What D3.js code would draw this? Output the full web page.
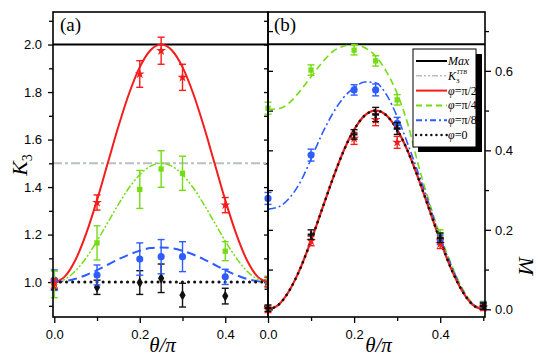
<!DOCTYPE html>
<meta charset="utf-8">
<script src="https://d3js.org/d3.v7.min.js"></script>
<style>
  body { margin: 0; background: #fff; }
  svg text { fill: #000; }
</style>
<svg id="chart" width="540" height="359"></svg>
<script>

// theory curves, every 0.025 in theta/pi
var thetaCurve = [0, 0.025, 0.05, 0.075, 0.1, 0.125, 0.15, 0.175, 0.2, 0.225, 0.25,
                  0.275, 0.3, 0.325, 0.35, 0.375, 0.4, 0.425, 0.45, 0.475, 0.5];
// panel (a): K3
var kRedCurve   = [1.0, 1.024, 1.095, 1.206, 1.345, 1.5, 1.655, 1.794, 1.905, 1.976, 2.0,
                   1.976, 1.905, 1.794, 1.655, 1.5, 1.345, 1.206, 1.095, 1.024, 1.0];
var kGreenCurve = [1.0, 1.012, 1.048, 1.103, 1.173, 1.25, 1.327, 1.397, 1.452, 1.488, 1.5,
                   1.488, 1.452, 1.397, 1.327, 1.25, 1.173, 1.103, 1.048, 1.012, 1.0];
var kBlueCurve  = [1.0, 1.004, 1.014, 1.03, 1.05, 1.073, 1.096, 1.116, 1.132, 1.143, 1.146,
                   1.143, 1.132, 1.116, 1.096, 1.073, 1.05, 1.03, 1.014, 1.004, 1.0];
var kBlackCurve = [1, 1, 1, 1, 1, 1, 1, 1, 1, 1, 1, 1, 1, 1, 1, 1, 1, 1, 1, 1, 1];
var kMax = 2.0, kTTB = 1.5;
// panel (b): M
var mRedCurve   = [0, 0.012, 0.048, 0.103, 0.173, 0.25, 0.327, 0.397, 0.452, 0.488, 0.5,
                   0.488, 0.452, 0.397, 0.327, 0.25, 0.173, 0.103, 0.048, 0.012, 0];
var mBlackCurve = [0, 0.012, 0.048, 0.103, 0.173, 0.25, 0.327, 0.397, 0.452, 0.488, 0.5,
                   0.488, 0.452, 0.397, 0.327, 0.25, 0.173, 0.103, 0.048, 0.012, 0];
var mGreenCurve = [0.503, 0.505, 0.52, 0.55, 0.585, 0.62, 0.648, 0.662, 0.666, 0.658, 0.637,
                   0.598, 0.543, 0.465, 0.36, 0.268, 0.186, 0.115, 0.055, 0.015, 0];
var mBlueCurve  = [0.252, 0.258, 0.28, 0.32, 0.378, 0.44, 0.492, 0.532, 0.557, 0.572, 0.57,
                   0.54, 0.485, 0.415, 0.34, 0.262, 0.18, 0.112, 0.052, 0.014, 0];
var mMax = 0.667;

// measured points
var thetaPts = [0, 0.1, 0.2, 0.25, 0.3, 0.4, 0.5];
var kRed     = [0.995, 1.335, 1.876, 1.974, 1.862, 1.324, 1.0];
var kRedErr  = [0.02, 0.032, 0.056, 0.057, 0.055, 0.032, 0.02];
var kGreen   = [0.99, 1.165, 1.39, 1.476, 1.458, 1.13, 1.005];
var kGreenErr= [0.056, 0.072, 0.08, 0.077, 0.072, 0.04, 0.02];
var kBlue    = [1.008, 1.03, 1.097, 1.107, 1.107, 1.022, 1.0];
var kBlueErr = [0.043, 0.042, 0.068, 0.072, 0.063, 0.032, 0.02];
var kBlack   = [0.99, 0.978, 0.998, 1.016, 0.945, 0.941, 0.99];
var kBlackErr= [0.02, 0.03, 0.05, 0.06, 0.05, 0.033, 0.02];

var mRed     = [0.0, 0.172, 0.43, 0.477, 0.42, 0.165, 0.005];
var mRedErr  = [0.008, 0.012, 0.015, 0.015, 0.015, 0.012, 0.008];
var mBlack   = [0.003, 0.188, 0.44, 0.49, 0.455, 0.18, 0.008];
var mBlackErr= [0.008, 0.012, 0.012, 0.018, 0.015, 0.012, 0.008];
var mBlue    = [0.279, 0.388, 0.552, 0.552, 0.468, 0.175, 0.01];
var mBlueErr = [0.015, 0.015, 0.013, 0.015, 0.015, 0.012, 0.008];
var mGreen   = [0.506, 0.602, 0.652, 0.625, 0.527, 0.188, 0.012];
var mGreenErr= [0.015, 0.013, 0.012, 0.013, 0.013, 0.012, 0.008];

// ticks
var xMajor = [0, 0.2, 0.4];
var kMajor = [1.0, 1.2, 1.4, 1.6, 1.8, 2.0];
var kMinor = [0.9, 1.1, 1.3, 1.5, 1.7, 1.9, 2.1];
var mMajor = [0.0, 0.2, 0.4, 0.6];
var mMinor = [0.1, 0.3, 0.5, 0.7];

var legendLabels = ["Max", "K3TTB", "\u03c6=\u03c0/2", "\u03c6=\u03c0/4", "\u03c6=\u03c0/8", "\u03c6=0"];

var RED = "#f51c1c", GREEN = "#74dc14", BLUE = "#2d5cff", BLACK = "#111", GRAY = "#b8c0c0";

var svg = d3.select("#chart");
var tickFont = "'Liberation Sans', Arial, sans-serif";
var serif = "'Liberation Serif', 'Times New Roman', serif";

var yTop = 12, yBot = 317, aLeft = 53, mid = 268, bRight = 485;

var xA = d3.scaleLinear().domain([-0.003, 0.5]).range([aLeft, mid]);
var xB = d3.scaleLinear().domain([0, 0.504]).range([mid, bRight]);
var yK = d3.scaleLinear().domain([0.853, 2.137]).range([yBot, yTop]);
var yM = d3.scaleLinear().domain([-0.0193, 0.748]).range([yBot, yTop]);

function styleAxis(g) {
  g.select(".domain").remove();
  g.selectAll("line").attr("stroke", "#000").attr("stroke-width", 1.3);
  g.selectAll("text").style("font-family", tickFont).style("font-size", "13px");
}

// ---- axes
svg.append("g").attr("transform", "translate(" + aLeft + ",0)")
  .call(d3.axisLeft(yK).tickValues(kMajor).tickSize(5).tickPadding(6).tickFormat(d3.format(".1f"))).call(styleAxis);
svg.append("g").attr("transform", "translate(" + aLeft + ",0)")
  .call(d3.axisLeft(yK).tickValues(kMinor).tickSize(4).tickFormat("")).call(styleAxis);
// inner ticks on the divider
svg.append("g").attr("transform", "translate(" + mid + ",0)")
  .call(d3.axisLeft(yK).tickValues(kMajor.concat(kMinor)).tickSize(4).tickFormat("")).call(styleAxis);
svg.append("g").attr("transform", "translate(" + mid + ",0)")
  .call(d3.axisRight(yM).tickValues(mMajor.concat(mMinor)).tickSize(5).tickFormat("")).call(styleAxis);

svg.append("g").attr("transform", "translate(" + bRight + ",0)")
  .call(d3.axisRight(yM).tickValues(mMajor).tickSize(6).tickPadding(4).tickFormat(d3.format(".1f"))).call(styleAxis);
svg.append("g").attr("transform", "translate(" + bRight + ",0)")
  .call(d3.axisRight(yM).tickValues(mMinor).tickSize(4).tickFormat("")).call(styleAxis);

svg.append("g").attr("transform", "translate(0," + yBot + ")")
  .call(d3.axisBottom(xA).tickValues(xMajor).tickSize(6).tickPadding(7).tickFormat(d3.format(".1f"))).call(styleAxis);
svg.append("g").attr("transform", "translate(0," + yBot + ")")
  .call(d3.axisBottom(xA).tickValues([0.1, 0.3]).tickSize(4).tickFormat("")).call(styleAxis);
svg.append("g").attr("transform", "translate(0," + yBot + ")")
  .call(d3.axisBottom(xB).tickValues(xMajor).tickSize(6).tickPadding(7).tickFormat(d3.format(".1f"))).call(styleAxis);
svg.append("g").attr("transform", "translate(0," + yBot + ")")
  .call(d3.axisBottom(xB).tickValues([0.1, 0.3, 0.5]).tickSize(4).tickFormat("")).call(styleAxis);

// clip for panel (a)
svg.append("clipPath").attr("id", "clipA")
  .append("rect").attr("x", 0).attr("y", 0).attr("width", mid).attr("height", 359);

function drawCurve(g, xs, ys, x, y, color, dash, width) {
  var line = d3.line().x(function(d){ return x(d[0]) }).y(function(d){ return y(d[1]) })
    .curve(d3.curveMonotoneX);
  g.append("path")
    .datum(xs.map(function(t, i){ return [t, ys[i]] }))
    .attr("d", line)
    .attr("fill", "none")
    .attr("stroke", color)
    .attr("stroke-width", width)
    .attr("stroke-dasharray", dash)
    .attr("stroke-linecap", dash && dash.indexOf("0.1") == 0 ? "round" : "butt");
}

function drawPoints(g, xs, ys, errs, x, y, color, symbol, size) {
  var pts = xs.map(function(t, i){ return {t: t, v: ys[i], e: errs[i]} });
  var eb = g.append("g").attr("stroke", color).attr("stroke-width", 1.4);
  pts.forEach(function(p){
    var cx = x(p.t), y0 = y(p.v - p.e), y1 = y(p.v + p.e);
    eb.append("line").attr("x1", cx).attr("x2", cx).attr("y1", y0).attr("y2", y1);
    eb.append("line").attr("x1", cx - 3.5).attr("x2", cx + 3.5).attr("y1", y0).attr("y2", y0);
    eb.append("line").attr("x1", cx - 3.5).attr("x2", cx + 3.5).attr("y1", y1).attr("y2", y1);
  });
  g.selectAll(null).data(pts).enter().append("path")
    .attr("d", d3.symbol().type(symbol).size(size))
    .attr("transform", function(p){ return "translate(" + x(p.t) + "," + y(p.v) + ")" })
    .attr("fill", color);
}

// ---- panel (a)
var gA = svg.append("g").attr("clip-path", "url(#clipA)");
gA.append("line").attr("x1", aLeft).attr("x2", mid).attr("y1", yK(kTTB)).attr("y2", yK(kTTB))
  .attr("stroke", GRAY).attr("stroke-width", 2).attr("stroke-dasharray", "9,3,3,3");
gA.append("line").attr("x1", aLeft).attr("x2", mid).attr("y1", yK(kMax)).attr("y2", yK(kMax))
  .attr("stroke", "#000").attr("stroke-width", 2);
drawCurve(gA, thetaCurve, kGreenCurve, xA, yK, GREEN, "7,2,2,2,2,2", 1.5);
drawCurve(gA, thetaCurve, kBlueCurve, xA, yK, BLUE, "9,5", 2);
drawCurve(gA, thetaCurve, kRedCurve, xA, yK, RED, null, 2);
drawCurve(gA, thetaCurve, kBlackCurve, xA, yK, BLACK, "0.1,6", 3);
drawPoints(gA, thetaPts, kBlack, kBlackErr, xA, yK, BLACK, d3.symbolDiamond, 34);
drawPoints(gA, thetaPts, kBlue, kBlueErr, xA, yK, BLUE, d3.symbolCircle, 40);
drawPoints(gA, thetaPts, kGreen, kGreenErr, xA, yK, GREEN, d3.symbolSquare, 28);
drawPoints(gA, thetaPts, kRed, kRedErr, xA, yK, RED, d3.symbolStar, 30);

// ---- panel (b)
var gB = svg.append("g");
gB.append("line").attr("x1", mid).attr("x2", bRight).attr("y1", yM(mMax)).attr("y2", yM(mMax))
  .attr("stroke", "#000").attr("stroke-width", 2);
drawCurve(gB, thetaCurve, mGreenCurve, xB, yM, GREEN, "7,4", 1.6);
drawCurve(gB, thetaCurve, mBlueCurve, xB, yM, BLUE, "8,3,2,3", 1.6);
drawCurve(gB, thetaCurve, mRedCurve, xB, yM, RED, null, 2.2);
drawCurve(gB, thetaCurve, mBlackCurve, xB, yM, BLACK, "0.1,6", 2.6);
drawPoints(gB, thetaPts, mGreen, mGreenErr, xB, yM, GREEN, d3.symbolSquare, 28);
drawPoints(gB, thetaPts, mBlue, mBlueErr, xB, yM, BLUE, d3.symbolCircle, 40);
drawPoints(gB, thetaPts, mRed, mRedErr, xB, yM, RED, d3.symbolStar, 30);
drawPoints(gB, thetaPts, mBlack, mBlackErr, xB, yM, BLACK, d3.symbolCross, 26);

// ---- frames
svg.append("rect").attr("x", aLeft).attr("y", yTop).attr("width", mid - aLeft).attr("height", yBot - yTop)
  .attr("fill", "none").attr("stroke", "#000").attr("stroke-width", 1.6);
svg.append("rect").attr("x", mid).attr("y", yTop).attr("width", bRight - mid).attr("height", yBot - yTop)
  .attr("fill", "none").attr("stroke", "#000").attr("stroke-width", 1.6);

// ---- panel labels & axis titles
svg.append("text").attr("x", 60).attr("y", 31).style("font-family", serif).style("font-size", "19px").text("(a)");
svg.append("text").attr("x", 274).attr("y", 31).style("font-family", serif).style("font-size", "19px").text("(b)");

[ (aLeft + mid) / 2, (mid + bRight) / 2 ].forEach(function(cx){
  svg.append("text").attr("x", cx + 2).attr("y", 352).attr("text-anchor", "middle")
    .style("font-family", serif).style("font-size", "21px").style("font-style", "italic")
    .text("\u03b8/\u03c0");
});

var kt = svg.append("text").attr("transform", "translate(27,165) rotate(-90)").attr("text-anchor", "middle")
  .style("font-family", serif).style("font-size", "22px");
kt.append("tspan").style("font-style", "italic").text("K");
kt.append("tspan").attr("dy", 5).style("font-size", "14px").text("3");

svg.append("text").attr("transform", "translate(519,266) rotate(90)").attr("text-anchor", "middle")
  .style("font-family", serif).style("font-size", "22px").style("font-style", "italic").text("M");

// ---- legend
var lg = svg.append("g");
lg.append("rect").attr("x", 418).attr("y", 54).attr("width", 64).attr("height", 98).attr("fill", "#000");
lg.append("rect").attr("x", 413).attr("y", 49).attr("width", 63).attr("height", 98)
  .attr("fill", "#fff").attr("stroke", "#000").attr("stroke-width", 1);
var legendStyles = [
  {c: "#000", d: null, w: 2},
  {c: GRAY, d: "6,2,2,2,2,2", w: 1.5},
  {c: RED, d: null, w: 2},
  {c: GREEN, d: "6,4", w: 2},
  {c: BLUE, d: "6,3,2,3", w: 2},
  {c: BLACK, d: "0.1,5", w: 2.4}
];
legendLabels.forEach(function(lab, i){
  var ly = 61 + i * 14.8;
  var s = legendStyles[i];
  lg.append("line").attr("x1", 416).attr("x2", 447).attr("y1", ly).attr("y2", ly)
    .attr("stroke", s.c).attr("stroke-width", s.w).attr("stroke-dasharray", s.d)
    .attr("stroke-linecap", s.d && s.d.indexOf("0.1") == 0 ? "round" : "butt");
  var t = lg.append("text").attr("x", 448).attr("y", ly + 4)
    .style("font-family", serif).style("font-size", "12px");
  if (i == 0) {
    t.style("font-style", "italic").text(lab);
  } else if (i == 1) {
    t.append("tspan").style("font-style", "italic").text("K");
    t.append("tspan").attr("dy", 3).style("font-size", "7px").text("3");
    t.append("tspan").attr("dy", -9).attr("dx", -3).style("font-size", "6px").style("font-style", "italic").text("TTB");
  } else {
    t.append("tspan").style("font-style", "italic").text(lab.charAt(0));
    t.append("tspan").text(lab.slice(1));
  }
});

</script>
